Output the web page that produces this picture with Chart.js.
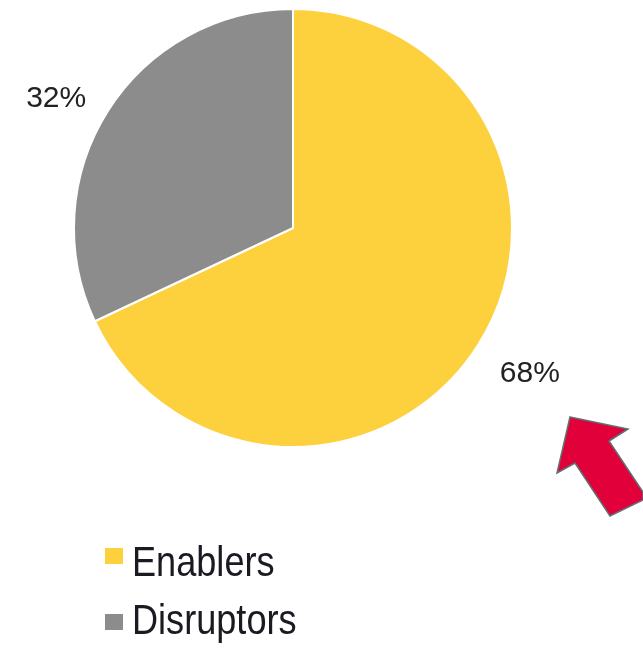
<!DOCTYPE html>
<html>
<head>
<meta charset="utf-8">
<script src="https://cdn.jsdelivr.net/npm/chart.js@4"></script>
<style>
    body { margin: 0; background: #fff; }
    #wrap { position: relative; width: 643px; height: 652px; }
    .sw { position: absolute; left: 105px; width: 18px; height: 16px; }
    .lg {
        position: absolute; left: 132px;
        font: 42px "Liberation Sans", Arial, sans-serif; line-height: 42px;
        color: #1a1a22; white-space: nowrap;
        transform: scaleX(0.86); transform-origin: left top;
    }
</style>
</head>
<body>
<div id="wrap">
    <canvas id="pie" width="643" height="652"></canvas>
    <div class="sw" id="sw0" style="top:548px"></div>
    <div class="lg" id="lg0" style="top:541px"></div>
    <div class="sw" id="sw1" style="top:614px"></div>
    <div class="lg" id="lg1" style="top:599px"></div>
</div>
<script>
const labels = ['Enablers', 'Disruptors'];
const shares = [68, 32];
const colors = ['#fdd13e', '#8c8c8c'];

// legend next to the chart
labels.forEach((l, i) => {
    document.getElementById('sw' + i).style.background = colors[i];
    document.getElementById('lg' + i).textContent = l;
});

// percent labels outside the slices
const outsideLabels = {
    id: 'outsideLabels',
    afterDatasetsDraw(chart) {
        const ctx = chart.ctx;
        ctx.save();
        ctx.font = '30px "Liberation Sans", Arial, sans-serif';
        ctx.fillStyle = '#222';
        ctx.textAlign = 'center';
        ctx.textBaseline = 'middle';
        chart.getDatasetMeta(0).data.forEach((arc, i) => {
            const mid = (arc.startAngle + arc.endAngle) / 2 - 0.04;
            const r = arc.outerRadius * 1.25;
            ctx.fillText(shares[i] + '%', arc.x + Math.cos(mid) * r, arc.y + Math.sin(mid) * r + 8);
        });
        ctx.restore();
    }
};

// red arrow pointing at the big slice
const arrow = {
    id: 'arrow',
    afterDraw(chart) {
        const ctx = chart.ctx;
        ctx.save();
        ctx.beginPath();
        ctx.moveTo(570, 417);
        ctx.lineTo(628, 429);
        ctx.lineTo(609, 441);
        ctx.lineTo(643, 492);
        ctx.lineTo(643, 500);
        ctx.lineTo(610, 516);
        ctx.lineTo(575, 463);
        ctx.lineTo(557, 473);
        ctx.closePath();
        ctx.fillStyle = '#e2003a';
        ctx.fill();
        ctx.strokeStyle = '#5f7170';
        ctx.lineWidth = 1.5;
        ctx.stroke();
        ctx.restore();
    }
};

new Chart(document.getElementById('pie').getContext('2d'), {
    type: 'pie',
    data: {
        labels: labels,
        datasets: [{
            data: shares,
            backgroundColor: colors,
            borderColor: '#fff',
            borderWidth: 2
        }]
    },
    options: {
        responsive: false,
        animation: false,
        layout: { padding: { left: 73, right: 130, top: 8, bottom: 204 } },
        plugins: {
            legend: { display: false },
            tooltip: { enabled: false }
        }
    },
    plugins: [outsideLabels, arrow]
});
</script>
</body>
</html>
